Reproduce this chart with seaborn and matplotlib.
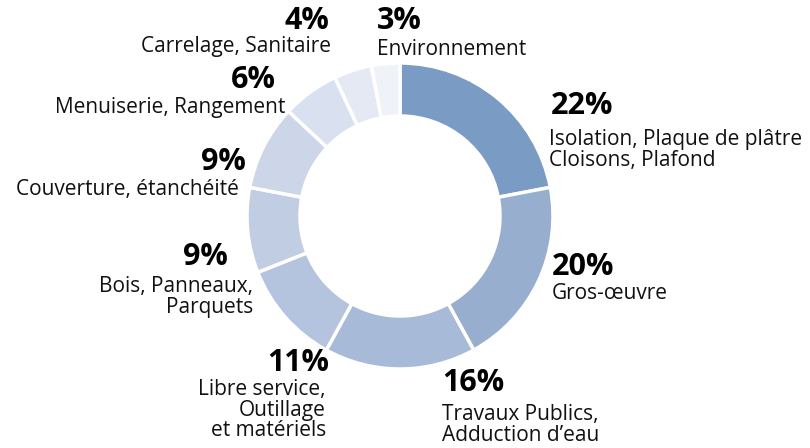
import matplotlib
matplotlib.use('Agg')
import matplotlib.pyplot as plt
import seaborn as sns

categories = ['Isolation, Plaque de plâtre\nCloisons, Plafond', 'Gros-œuvre',
              'Travaux Publics,\nAdduction d\u2019eau', 'Libre service,\nOutillage\net matériels',
              'Bois, Panneaux,\nParquets', 'Couverture, étanchéité', 'Menuiserie, Rangement',
              'Carrelage, Sanitaire', 'Environnement']
shares = [22, 20, 16, 11, 9, 9, 6, 4, 3]
colors = ['#7a9bc4', '#97aecf', '#a7bad7', '#b4c4de', '#c0cde3', '#cdd6e9',
          '#d9e0ef', '#e4e9f4', '#eff2f8']

sns.set_theme(style='white')
plt.rcParams['font.family'] = ['Open Sans', 'DejaVu Sans']

fig = plt.figure(figsize=(8.1, 4.48), dpi=100)
ax = fig.add_axes([0, 0, 1, 1])

# y axis runs downward, so clockwise on screen = counterclockwise in data
ax.pie(shares, colors=colors, startangle=270, counterclock=True,
       center=(400, 216), radius=153,
       wedgeprops=dict(width=53, edgecolor='white', linewidth=2.5))
ax.set_xlim(0, 810)
ax.set_ylim(448, 0)
ax.set_aspect('equal')
ax.axis('off')

# label layout: side, percentage anchor (x, y centre), name anchor (x, y top)
sides = ['left', 'left', 'left', 'right', 'right', 'right', 'right', 'right', 'left']
pct_pos = [(551, 106), (552, 267), (442, 383), (329, 363), (228, 257),
           (246, 162), (276, 80), (329, 21), (377, 21)]
name_pos = [(549, 129), (552, 283), (442, 404), (326, 379), (253, 276),
            (239, 179), (285, 97), (331, 36), (377, 39)]

for cat, val, ha, (px, py), (nx, ny) in zip(categories, shares, sides, pct_pos, name_pos):
    ax.text(px, py, f'{val}%', ha=ha, va='center', fontsize=22, fontweight='bold', color='black')
    ax.text(nx, ny, cat, ha=ha, va='top', fontsize=15, color='#111111',
            linespacing=0.98, multialignment=ha)

fig.savefig('out.png', dpi=100)
